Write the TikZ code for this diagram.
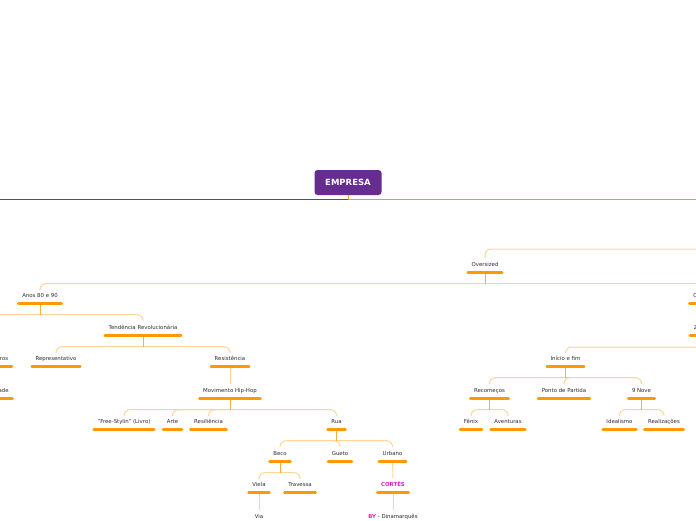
\documentclass[tikz,border=0pt]{standalone}
\usepackage{fontspec}
\setsansfont{DejaVu Sans}
\usepackage{xcolor}
\usepackage{tikz}
\usetikzlibrary{positioning,calc}

\definecolor{mappurple}{HTML}{662D91}
\definecolor{barorange}{HTML}{FF9900}
\definecolor{linkorange}{HTML}{FDD598}
\definecolor{stemorange}{HTML}{FBB040}
\definecolor{leftblue}{HTML}{1F50E8}
\definecolor{labelgray}{HTML}{2E2E2E}
\definecolor{accentpink}{HTML}{E01EC0}

\begin{document}
\begin{tikzpicture}[x=1pt, y=-1pt,
  topic/.style={font=\fontsize{5.4}{6.5}\selectfont\sffamily, text=labelgray,
    text height=4pt, text depth=1pt, inner xsep=3.6pt, inner ysep=0pt, minimum height=14pt},
  central/.style={rounded corners=3pt, fill=mappurple, text=white,
    font=\fontsize{8.5}{10}\selectfont\sffamily\bfseries, minimum width=67pt, minimum height=25pt},
  bar/.style={barorange, line width=2.6pt, line cap=round},
  stem/.style={stemorange, line width=1pt},
  link/.style={linkorange, line width=1pt, rounded corners=6pt}]
  \useasboundingbox (0,0) rectangle (696,520);
  \fill[white] (0,0) rectangle (696,520);
  \clip (0,0) rectangle (696,520);
  \coordinate (west) at (0,0);
  \coordinate (east) at (696,0);

  % central topic
  \node[central] (empresa) at (348,182.5) {EMPRESA};
  \coordinate (hub) at (348,199);
  \draw[barorange, line width=1pt] (empresa.south) -- (hub);
  \draw[leftblue, line width=1pt] (hub) -- (hub -| west);
  \draw[barorange, line width=1pt] (hub) -- (hub -| east);

  % topics
  \node[topic] (oversized) at (485,265) {Oversized};
  \node[topic] (anos) at (40,296) {Anos 80 e 90};
  \node[topic, anchor=west] (cright) at (689.5,296) {C};
  \node[topic, anchor=west] (zright) at (690,328) {Z};
  \node[topic] (tendencia) at (143,328) {Tendência Revolucionária};
  \node[topic, anchor=east] (ros) at (12,359) {ros};
  \node[topic, anchor=east] (ade) at (12.5,391) {ade};
  \node[topic] (representativo) at (56,359) {Representativo};
  \node[topic] (resistencia) at (230,359) {Resistência};
  \node[topic] (movimento) at (230,391) {Movimento Hip-Hop};
  \node[topic] (freestylin) at (124,422) {"Free-Stylin" (Livro)};
  \node[topic] (arte) at (172.5,422) {Arte};
  \node[topic] (resiliencia) at (208.5,422) {Resiliência};
  \node[topic] (rua) at (336.5,422) {Rua};
  \node[topic] (beco) at (280,454) {Beco};
  \node[topic] (gueto) at (340,454) {Gueto};
  \node[topic] (urbano) at (392.5,454) {Urbano};
  \node[topic] (viela) at (259,485) {Viela};
  \node[topic] (travessa) at (300,485) {Travessa};
  \node[topic, text=accentpink, font=\fontsize{5.4}{6.5}\selectfont\sffamily\bfseries] (cortes) at (393,485) {CORTÊS};
  \node[topic] (via) at (259,517) {Via};
  \node[topic] (byline) at (393,517) {\textcolor{accentpink}{\bfseries BY} - Dinamarquês};
  \node[topic] (inicio) at (565.5,359) {Início e fim};
  \node[topic] (recomecos) at (489.5,391) {Recomeços};
  \node[topic] (ponto) at (564,391) {Ponto de Partida};
  \node[topic] (nove) at (641.5,391) {9 Nove};
  \node[topic] (fenix) at (471,422) {Fênix};
  \node[topic] (aventuras) at (508,422) {Aventuras};
  \node[topic] (idealismo) at (619.5,422) {Idealismo};
  \node[topic] (realizacoes) at (664,422) {Realizações};

  % branch points
  \coordinate (over-in) at (696,249);
  \coordinate (z-in) at (696,347);
  \foreach \p in {oversized,anos,tendencia,movimento,rua,beco,inicio,recomecos,nove}
    \coordinate (\p-j) at ($(\p.south)+(0,11.5)$);

  % connectors
  \draw[link] (over-in) -| (oversized.north);
  \draw[link] (z-in) -| (inicio.north);
  \draw[link] (oversized-j) -| (anos.north);
  \draw[link] (oversized-j) -- (oversized-j -| east);
  \draw[link] (anos-j) -- (anos-j -| west);
  \draw[link] (anos-j) -| (tendencia.north);
  \foreach \c in {representativo,resistencia} \draw[link] (tendencia-j) -| (\c.north);
  \draw[link] (resistencia.south) -- (movimento.north);
  \foreach \c in {freestylin,arte,resiliencia,rua} \draw[link] (movimento-j) -| (\c.north);
  \foreach \c in {beco,gueto,urbano} \draw[link] (rua-j) -| (\c.north);
  \foreach \c in {viela,travessa} \draw[link] (beco-j) -| (\c.north);
  \draw[link] (viela.south) -- (via.north);
  \draw[link] (urbano.south) -- (cortes.north);
  \draw[link] (cortes.south) -- (byline.north);
  \foreach \c in {recomecos,ponto,nove} \draw[link] (inicio-j) -| (\c.north);
  \foreach \c in {fenix,aventuras} \draw[link] (recomecos-j) -| (\c.north);
  \foreach \c in {idealismo,realizacoes} \draw[link] (nove-j) -| (\c.north);
  \foreach \p in {oversized,anos,tendencia,movimento,rua,beco,inicio,recomecos,nove}
    \draw[stem] (\p.south) -- (\p-j);

  % underline bars
  \foreach \n in {oversized,anos,cright,zright,tendencia,ros,ade,representativo,resistencia,
      movimento,freestylin,arte,resiliencia,rua,beco,gueto,urbano,viela,travessa,cortes,
      via,byline,inicio,recomecos,ponto,nove,fenix,aventuras,idealismo,realizacoes}
    \draw[bar] (\n.south west) -- (\n.south east);
\end{tikzpicture}
\end{document}
